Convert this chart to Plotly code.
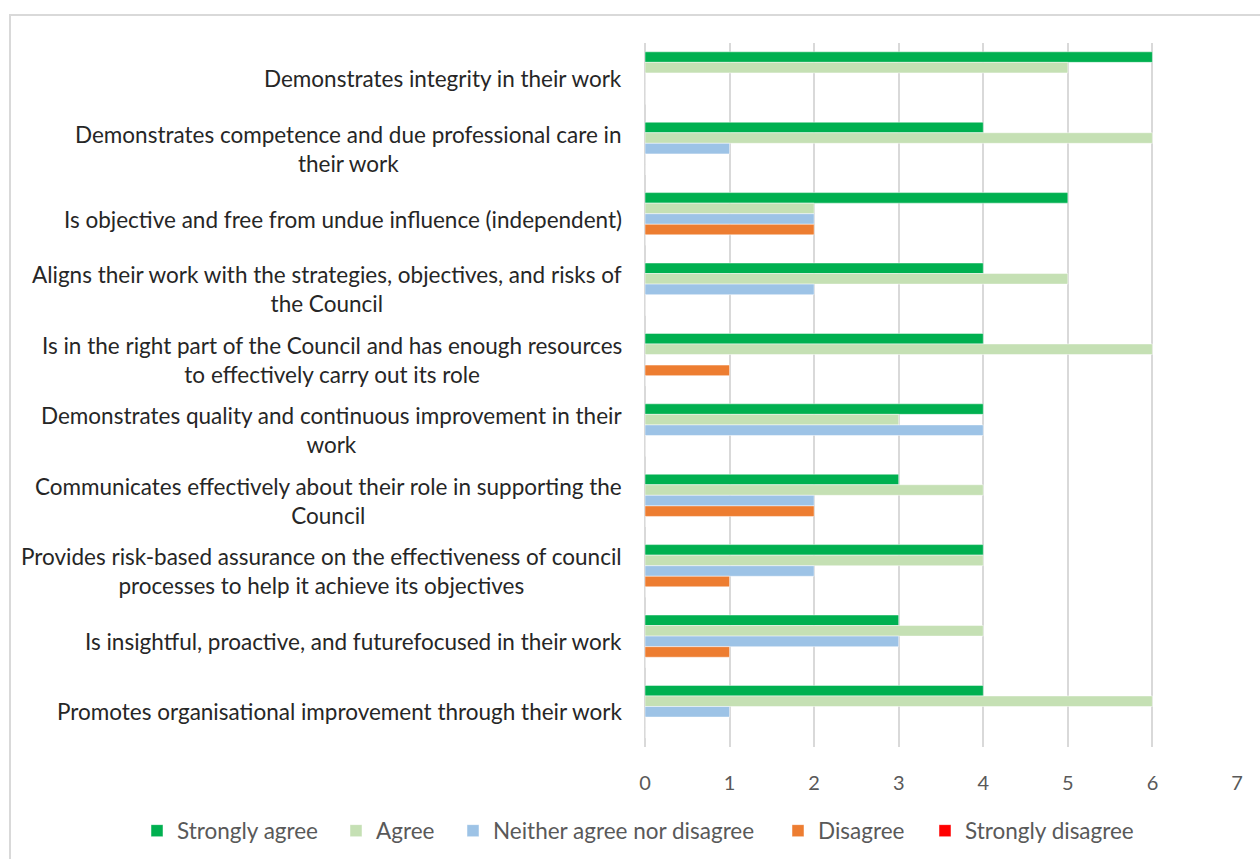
import plotly.graph_objects as go

categories = [
    "Demonstrates integrity in their work",
    "Demonstrates competence and due professional care in<br>their work",
    "Is objective and free from undue influence (independent)",
    "Aligns their work with the strategies, objectives, and risks of<br>the Council",
    "Is in the right part of the Council and has enough resources<br>to effectively carry out its role",
    "Demonstrates quality and continuous improvement in their<br>work",
    "Communicates effectively about their role in supporting the<br>Council",
    "Provides risk-based assurance on the effectiveness of council<br>processes to help it achieve its objectives",
    "Is insightful, proactive, and futurefocused in their work",
    "Promotes organisational improvement through their work",
]

strongly_agree = [6, 4, 5, 4, 4, 4, 3, 4, 3, 4]
agree = [5, 6, 2, 5, 6, 3, 4, 4, 4, 6]
neither = [0, 1, 2, 2, 0, 4, 2, 2, 3, 1]
disagree = [0, 0, 2, 0, 1, 0, 2, 1, 1, 0]
strongly_disagree = [0, 0, 0, 0, 0, 0, 0, 0, 0, 0]

series = [
    ("Strongly agree", strongly_agree, "#00B050"),
    ("Agree", agree, "#C5E0B4"),
    ("Neither agree nor disagree", neither, "#9DC3E6"),
    ("Disagree", disagree, "#ED7D31"),
    ("Strongly disagree", strongly_disagree, "#FF0000"),
]

W, H = 1260, 859
ML, MR, MT, MB = 645, 23, 43, 112
PW, PH = W - ML - MR, H - MT - MB

font_family = "Lato, 'Open Sans', sans-serif"

def px2paper_x(px):
    return (px - ML) / PW

def px2paper_y(py):
    return 1 - (py - MT) / PH

# left edge (px) of each legend entry's text in the reference
legend_text_x = [177, 376, 493, 818, 965]

fig = go.Figure()
legend_layouts = {}
for i, (name, vals, col) in enumerate(series):
    lname = "legend" if i == 0 else f"legend{i + 1}"
    fig.add_trace(go.Bar(
        y=categories, x=vals, name=name, orientation="h", legend=lname, showlegend=True,
        marker=dict(color=col, line=dict(color="rgba(255,255,255,0.6)", width=0.8)),
    ))
    legend_layouts[lname] = dict(
        orientation="h", x=px2paper_x(legend_text_x[i] - 40), xanchor="left",
        y=px2paper_y(831), yanchor="middle",
        font=dict(family=font_family, size=22.5, color="#595959"),
        bgcolor="rgba(0,0,0,0)", itemwidth=30,
    )

annotations = []
for c in categories:
    annotations.append(dict(
        x=0, xref="paper", y=c, yref="y", text=c, showarrow=False,
        xanchor="right", yanchor="middle", align="center", xshift=-21,
        font=dict(family=font_family, size=22.5, color="#262626"),
    ))

fig.update_layout(
    width=W, height=H, showlegend=True,
    margin=dict(l=ML, r=MR, t=MT, b=MB, autoexpand=False),
    paper_bgcolor="white", plot_bgcolor="white",
    barmode="group", bargap=0.25, bargroupgap=0,
    font=dict(family=font_family, size=18, color="#595959"),
    xaxis=dict(range=[0, 7], dtick=1, showgrid=True, gridcolor="#D9D9D9", gridwidth=2,
               zeroline=True, zerolinecolor="#D9D9D9", zerolinewidth=2,
               showline=False, ticks="", ticklabelstandoff=22,
               tickfont=dict(family=font_family, size=20, color="#595959"), fixedrange=True),
    yaxis=dict(categoryorder="array", categoryarray=categories, autorange="reversed",
               showticklabels=False, showgrid=False, zeroline=False, showline=False, ticks=""),
    annotations=annotations,
    shapes=[dict(type="rect", xref="paper", yref="paper",
                 x0=px2paper_x(10), x1=px2paper_x(1262), y0=px2paper_y(15), y1=px2paper_y(870),
                 line=dict(color="#D9D9D9", width=2), fillcolor="rgba(0,0,0,0)", layer="below")],
    **legend_layouts,
)

fig.write_html("out.html")
